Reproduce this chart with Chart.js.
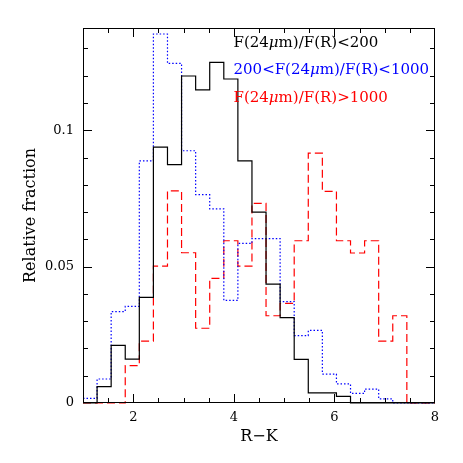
<!DOCTYPE html>
<html>
<head>
<meta charset="utf-8">
<script src="https://cdn.jsdelivr.net/npm/chart.js@4"></script>
<style>
  html, body { margin: 0; padding: 0; background: #fff; }
  #wrap { width: 463px; height: 463px; }
</style>
</head>
<body>
<div id="wrap"><canvas id="c" width="463" height="463"></canvas></div>
<script>
// bin edges of the R-K histograms (25 bins)
const binEdges = [1.00, 1.28, 1.56, 1.84, 2.12, 2.40, 2.68, 2.96, 3.24, 3.52, 3.80, 4.08, 4.36,
                  4.64, 4.92, 5.20, 5.48, 5.76, 6.04, 6.32, 6.60, 6.88, 7.16, 7.44, 7.72, 8.00];

// relative fraction per bin
const lowRatio  = [0, 0.0060, 0.0211, 0.0161, 0.0387, 0.0938, 0.0874, 0.1199, 0.1148, 0.1249, 0.1188, 0.0888, 0.0700,
                   0.0436, 0.0313, 0.0160, 0.0037, 0.0037, 0.0024, 0, 0, 0, 0, 0, 0];
const midRatio  = [0.0017, 0.0088, 0.0335, 0.0354, 0.0888, 0.1353, 0.1245, 0.0925, 0.0764, 0.0712, 0.0376, 0.0585, 0.0603,
                   0.0603, 0.0372, 0.0247, 0.0266, 0.0106, 0.0070, 0.0035, 0.0051, 0.0015, 0, 0, 0];
const highRatio = [0, 0, 0, 0.0137, 0.0227, 0.0502, 0.0778, 0.0551, 0.0274, 0.0457, 0.0595, 0.0502, 0.0732,
                   0.0320, 0.0365, 0.0595, 0.0916, 0.0776, 0.0595, 0.0550, 0.0595, 0.0227, 0.0320, 0, 0];

const xTicks = [2, 4, 6, 8];
const yTicks = [0, 0.05, 0.1];

const labels = [
    { parts: ['F(24', 'μ', 'm)/F(R)<200'], color: '#000000' },
    { parts: ['200<F(24', 'μ', 'm)/F(R)<1000'], color: '#0000ff' },
    { parts: ['F(24', 'μ', 'm)/F(R)>1000'], color: '#ff0000' },
];

const FONT = "'DejaVu Serif', serif";

// step points: left edge of each bin, then close at the last edge
const toSteps = (values) => {
    const pts = values.map((v, i) => ({ x: binEdges[i], y: v }));
    pts.push({ x: binEdges[binEdges.length - 1], y: 0 });
    return pts;
};

const frameTicks = {
    id: 'frameTicks',
    afterDatasetsDraw(chart) {
        const { ctx, chartArea: a, scales: { x, y } } = chart;
        ctx.save();
        ctx.strokeStyle = '#000';
        ctx.lineWidth = 1;
        ctx.strokeRect(a.left + 0.5, a.top + 0.5, a.right - a.left - 1, a.bottom - a.top - 1);
        ctx.beginPath();
        for (let v = 1.5; v < 8; v += 0.5) {
            const px = Math.round(x.getPixelForValue(v)) + 0.5;
            const len = (v % 2 === 0) ? 9 : 5;
            ctx.moveTo(px, a.bottom); ctx.lineTo(px, a.bottom - len);
            ctx.moveTo(px, a.top); ctx.lineTo(px, a.top + len);
        }
        for (let i = 1; i <= 13; i++) {
            const v = i * 0.01;
            const py = Math.round(y.getPixelForValue(v)) + 0.5;
            const len = (i % 5 === 0) ? 9 : 5;
            ctx.moveTo(a.left, py); ctx.lineTo(a.left + len, py);
            ctx.moveTo(a.right, py); ctx.lineTo(a.right - len, py);
        }
        ctx.stroke();

        // ratio labels
        ctx.textBaseline = 'middle';
        const x0 = 233.5;
        const rows = [43, 70.5, 98];
        labels.forEach((l, i) => {
            let cx = x0;
            ctx.fillStyle = l.color;
            l.parts.forEach((p, j) => {
                ctx.font = (j === 1 ? 'italic ' : '') + '15px ' + FONT;
                ctx.fillText(p, cx, rows[i]);
                cx += ctx.measureText(p).width;
            });
        });
        ctx.restore();
    }
};

new Chart(document.getElementById('c'), {
    type: 'line',
    data: {
        datasets: [
            {
                label: 'F(24μm)/F(R)<200',
                data: toSteps(lowRatio),
                borderColor: '#000000',
                borderWidth: 1.2,
                stepped: true,
            },
            {
                label: '200<F(24μm)/F(R)<1000',
                data: toSteps(midRatio),
                borderColor: '#0000ff',
                borderWidth: 1.2,
                borderDash: [1.5, 2],
                stepped: true,
            },
            {
                label: 'F(24μm)/F(R)>1000',
                data: toSteps(highRatio),
                borderColor: '#ff0000',
                borderWidth: 1.2,
                borderDash: [8, 4],
                stepped: true,
            },
        ],
    },
    options: {
        responsive: false,
        animation: false,
        clip: false,
        layout: { padding: { left: 0, right: 28, top: 28, bottom: 0 } },
        elements: { point: { radius: 0 } },
        plugins: { legend: { display: false }, tooltip: { enabled: false } },
        scales: {
            x: {
                type: 'linear',
                min: 1,
                max: 8,
                afterBuildTicks: (s) => { s.ticks = xTicks.map(v => ({ value: v })); },
                afterFit: (s) => { s.height = 60; },
                grid: { display: false, drawTicks: false },
                border: { display: false },
                ticks: { color: '#000', padding: 7, maxRotation: 0, font: { family: FONT, size: 13 },
                         callback: (v) => String(v) },
                title: { display: true, text: 'R−K', color: '#000', padding: { top: 0, bottom: 17 }, font: { family: FONT, size: 16 } },
            },
            y: {
                min: 0,
                max: 0.1375,
                afterBuildTicks: (s) => { s.ticks = yTicks.map(v => ({ value: v })); },
                afterFit: (s) => { s.width = 83; },
                grid: { display: false, drawTicks: false },
                border: { display: false },
                ticks: { color: '#000', padding: 9, font: { family: FONT, size: 13 },
                         callback: (v) => String(v) },
                title: { display: true, text: 'Relative fraction', color: '#000', padding: { top: 21, bottom: 0 }, font: { family: FONT, size: 16 } },
            },
        },
    },
    plugins: [frameTicks],
});
</script>
</body>
</html>
